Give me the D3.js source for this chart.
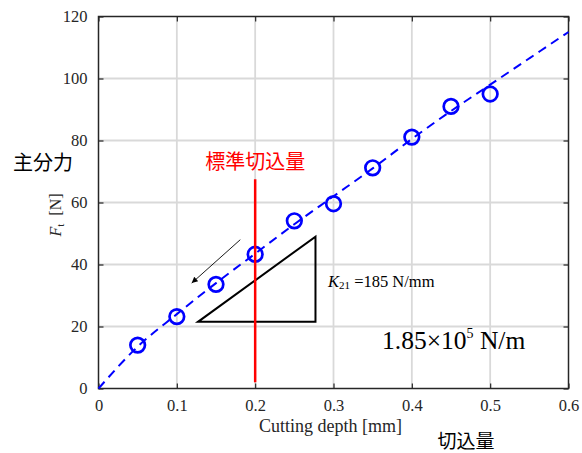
<!DOCTYPE html>
<html><head><meta charset="utf-8">
<script src="https://cdn.jsdelivr.net/npm/d3@7"></script>
<style>body{margin:0;background:#fff}</style>
</head><body>
<svg id="c" width="582" height="453"></svg>
<script>
// data
const depthMeasured = [0.05,0.10,0.15,0.20,0.25,0.30,0.35,0.40,0.45,0.50];
const forceMeasured = [14.0,23.2,33.6,43.3,54.1,59.6,71.2,81.1,91.0,95.0];
const fitDepth = [0,0.05,0.10,0.15,0.20,0.25,0.30,0.35,0.40,0.45,0.50,0.55,0.60];
const fitForce = [0,13.5,24,34,43.5,53,62,71,80.5,89.5,98,106.5,115];
const xTicks = [0,0.1,0.2,0.3,0.4,0.5,0.6];
const yTicks = [0,20,40,60,80,100,120];
const stdDepth = 0.2, stdRange = [2,67.5];
const triX = [0.127,0.277], triY = [21.5,49];
const arrowFrom = [0.181,48], arrowTo = [0.119,34];

const svg = d3.select('#c');
const L=98.5,R=568.5,T=16.5,B=388.5;
const x = d3.scaleLinear().domain([0,0.6]).range([L,R]);
const y = d3.scaleLinear().domain([0,120]).range([B,T]);
const axCol='#262626', serif='Liberation Serif, Times New Roman, serif', cjk='Noto Sans CJK JP, sans-serif';

// grid
const g = svg.append('g');
g.selectAll('.gx').data(xTicks.slice(1,-1)).join('line').attr('x1',d=>x(d)).attr('x2',d=>x(d)).attr('y1',T).attr('y2',B).attr('stroke','#d9d9d9').attr('stroke-width',1.8);
g.selectAll('.gy').data(yTicks.slice(1,-1)).join('line').attr('y1',d=>y(d)).attr('y2',d=>y(d)).attr('x1',L).attr('x2',R).attr('stroke','#d9d9d9').attr('stroke-width',1.8);

// axes
const fmt = d=> d===0?'0':String(d);
const ax = (gen, tf)=>{const a=svg.append('g').attr('transform',tf).call(gen);a.attr('font-family',serif).attr('font-size',16.5);a.select('.domain').remove();a.selectAll('line').attr('stroke',axCol).attr('stroke-width',1.2);return a;};
ax(d3.axisBottom(x).tickValues(xTicks).tickSize(-5).tickPadding(11).tickFormat(fmt),`translate(0,${B})`);
ax(d3.axisTop(x).tickValues(xTicks).tickSize(-5).tickFormat(''),`translate(0,${T})`);
ax(d3.axisLeft(y).tickValues(yTicks).tickSize(-5).tickPadding(11),`translate(${L},0)`);
ax(d3.axisRight(y).tickValues(yTicks).tickSize(-5).tickFormat(''),`translate(${R},0)`);
svg.selectAll('.tick text').attr('fill',axCol);
svg.append('rect').attr('x',L).attr('y',T).attr('width',R-L).attr('height',B-T).attr('fill','none').attr('stroke',axCol).attr('stroke-width',1.5);

// fit line
const line = d3.line().x(d=>x(d[0])).y(d=>y(d[1])).curve(d3.curveMonotoneX);
svg.append('path').datum(d3.zip(fitDepth,fitForce)).attr('d',line).attr('fill','none').attr('stroke','#0000ff').attr('stroke-width',2).attr('stroke-dasharray','9,6');

// markers
svg.selectAll('.m').data(d3.zip(depthMeasured,forceMeasured)).join('circle').attr('cx',d=>x(d[0])).attr('cy',d=>y(d[1])).attr('r',7.3).attr('fill','none').attr('stroke','#0000ff').attr('stroke-width',2.7);

// triangle
svg.append('path').attr('d',`M${x(triX[0])},${y(triY[0])}L${x(triX[1])},${y(triY[0])}L${x(triX[1])},${y(triY[1])}Z`).attr('fill','none').attr('stroke','#000').attr('stroke-width',2);

// arrow
svg.append('defs').append('marker').attr('id','ah').attr('viewBox','0 0 10 10').attr('refX',10).attr('refY',5).attr('markerWidth',9).attr('markerHeight',6).attr('markerUnits','userSpaceOnUse').attr('orient','auto')
 .append('path').attr('d','M0,0L10,5L0,10Z').attr('fill','#000');
svg.append('line').attr('x1',x(arrowFrom[0])).attr('y1',y(arrowFrom[1])).attr('x2',x(arrowTo[0])).attr('y2',y(arrowTo[1])).attr('stroke','#000').attr('stroke-width',0.9).attr('marker-end','url(#ah)');

// red line
svg.append('line').attr('x1',x(stdDepth)).attr('x2',x(stdDepth)).attr('y1',y(stdRange[0])).attr('y2',y(stdRange[1])).attr('stroke','#ff0000').attr('stroke-width',2.5);

// texts
svg.append('text').attr('x',x(stdDepth)).attr('y',169).attr('text-anchor','middle').attr('font-family',cjk).attr('font-size',20).attr('fill','#ff0000').text('標準切込量');
svg.append('text').attr('x',43).attr('y',170).attr('text-anchor','middle').attr('font-family',cjk).attr('font-size',20).attr('fill','#000').text('主分力');
svg.append('text').attr('x',466).attr('y',448).attr('text-anchor','middle').attr('font-family',cjk).attr('font-size',19).attr('fill','#000').text('切込量');
svg.append('text').attr('x',(L+R)/2-3).attr('y',432).attr('text-anchor','middle').attr('font-family',serif).attr('font-size',18).attr('fill',axCol).text('Cutting depth [mm]');
const yl = svg.append('text').attr('transform','translate(61,215) rotate(-90)').attr('text-anchor','middle').attr('font-family',serif).attr('font-size',16).attr('fill',axCol);
yl.append('tspan').attr('font-style','italic').text('F');
yl.append('tspan').attr('font-size',11).attr('dy',3).text('t');
yl.append('tspan').attr('dy',-3).text('\u2002[N]');
const kt = svg.append('text').attr('x',328).attr('y',287).attr('font-family',serif).attr('font-size',16.5).attr('fill','#000');
kt.append('tspan').attr('font-style','italic').text('K');
kt.append('tspan').attr('font-size',11).attr('dy',2).text('21');
kt.append('tspan').attr('dy',-2).text(' =185 N/mm');
const nt = svg.append('text').attr('x',382).attr('y',349).attr('font-family',serif).attr('font-size',25.5).attr('fill','#000');
nt.append('tspan').text('1.85×10');
nt.append('tspan').attr('font-size',14).attr('dy',-11).text('5');
nt.append('tspan').attr('dy',11).text(' N/m');
</script>
</body></html>
